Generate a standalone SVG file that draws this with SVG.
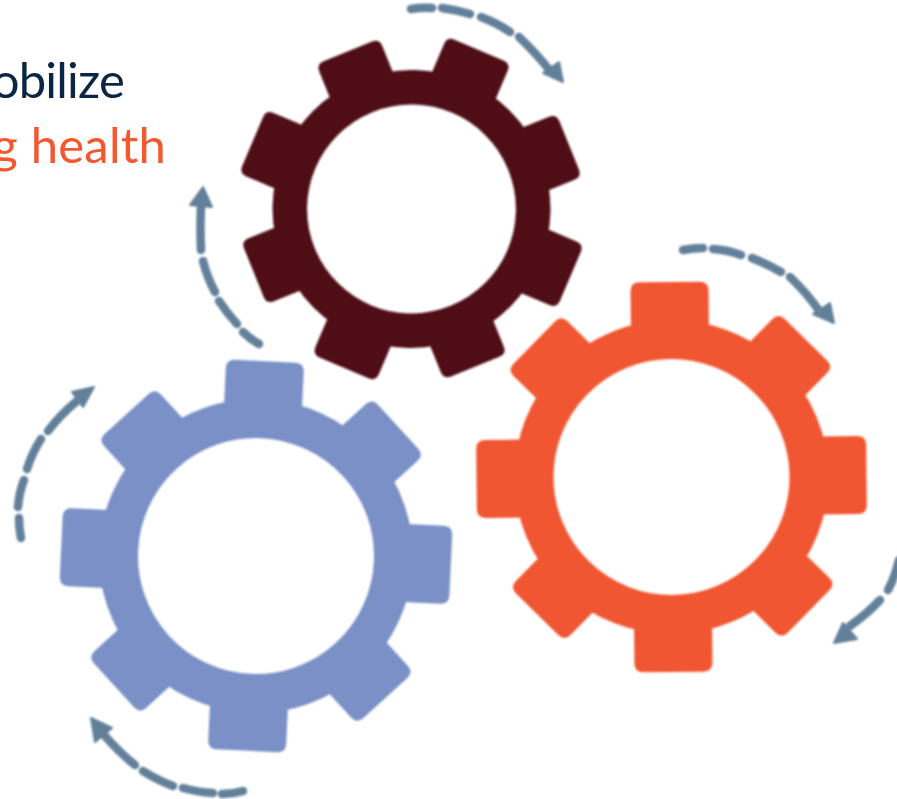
<svg xmlns="http://www.w3.org/2000/svg" xmlns:xlink="http://www.w3.org/1999/xlink" width="897" height="799" viewBox="0 0 897 799">
<style>
.label{font-family:"Lato","Open Sans",sans-serif;font-size:49px;text-anchor:end}
.dash{fill:none;stroke:#63809a;stroke-width:8.5;stroke-linecap:round}
.head{fill:#63809a;stroke:#63809a;stroke-width:2;stroke-linejoin:round}
.ring{fill:none;stroke:currentColor;stroke-width:39}
.tooth{fill:currentColor}
</style>
<defs>
<filter id="soft" x="-5%" y="-5%" width="110%" height="110%"><feGaussianBlur stdDeviation="1"/></filter>
<g id="gear">
<circle class="ring" r="137.5"/>
<g id="t"><path class="tooth" d="M-39-150V-186Q-39-195-30-195H30Q39-195 39-186V-150Z"/></g>
<use xlink:href="#t" href="#t" transform="rotate(45) scale(.985)"/>
<use xlink:href="#t" href="#t" transform="rotate(90)"/>
<use xlink:href="#t" href="#t" transform="rotate(135) scale(.985)"/>
<use xlink:href="#t" href="#t" transform="rotate(180)"/>
<use xlink:href="#t" href="#t" transform="rotate(225) scale(.985)"/>
<use xlink:href="#t" href="#t" transform="rotate(270)"/>
<use xlink:href="#t" href="#t" transform="rotate(315) scale(.985)"/>
</g>
</defs>
<rect width="897" height="799" fill="#fff"/>
<g id="labels">
<text class="label" x="124" y="98" fill="#0b2545" letter-spacing="-0.8">obilize</text>
<text class="label" x="166" y="163" fill="#f4582f" letter-spacing="0.2">g health</text>
</g>
<g id="gear-dark" filter="url(#soft)" style="color:#4f0d17"><use href="#gear" xlink:href="#gear" transform="translate(411.5 209) rotate(23) scale(.885)"/></g>
<g id="gear-orange" filter="url(#soft)" style="color:#f15630"><use href="#gear" xlink:href="#gear" transform="translate(671.5 477) rotate(-.6)"/></g>
<g id="gear-blue" filter="url(#soft)" style="color:#7a90c6"><use href="#gear" xlink:href="#gear" transform="translate(256 556) rotate(2.7)"/></g>
<g id="connectors" filter="url(#soft)">
<g><path class="dash" d="M411 9Q422 7 432 8M442 8Q457 10 470 14M481 17Q497 23 510 32M519 37Q537 54 551 72"/><path class="head" d="M563 82L543 73L559 62Z"/></g>
<g><path class="dash" d="M683 250Q693 248 703 248M713 249Q728 250 741 255M752 258Q767 264 781 272M790 277Q807 293 820 312"/><path class="head" d="M834 323L813 314L830 303Z"/></g>
<g><path class="dash" d="M899 560Q895 577 888 590M880 600Q868 613 850 626"/><path class="head" d="M834 643L843 623L857 639Z"/></g>
<g><path class="dash" d="M243 791Q233 794 222 794M213 793Q197 792 183 788M173 786Q157 780 143 771M135 765Q120 753 105 736"/><path class="head" d="M91 718L112 728L95 742Z"/></g>
<g><path class="dash" d="M21 538Q19 528 19 518M18 507Q19 493 24 480M27 469Q32 453 41 439M48 431Q60 415 77 401"/><path class="head" d="M94 387L72 392L83 407Z"/></g>
<g><path class="dash" d="M259 344Q250 339 243 332M237 324Q227 313 219 301M215 292Q207 277 203 261M201 250Q200 229 201 205"/><path class="head" d="M203 187L190 205L212 207Z"/></g>
</g>
</svg>
